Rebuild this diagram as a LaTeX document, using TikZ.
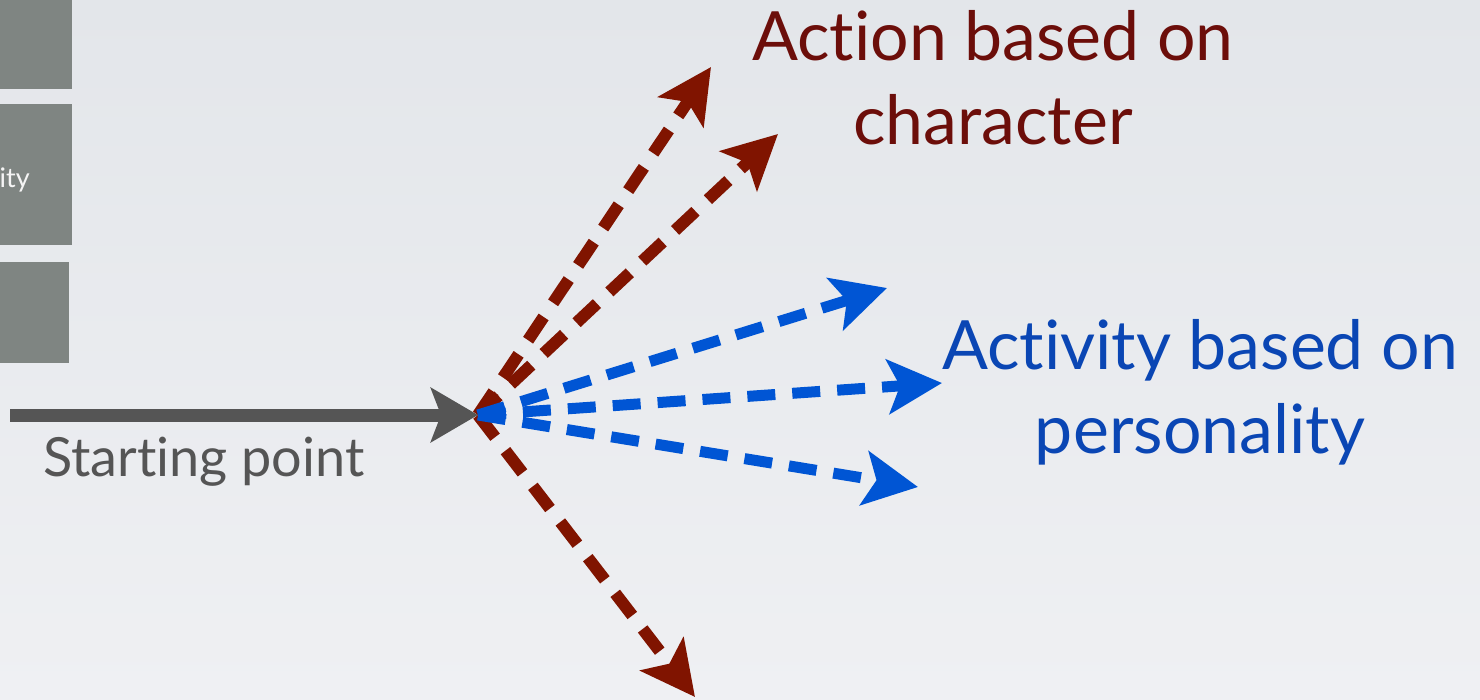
\documentclass[tikz,border=0pt]{standalone}
\usepackage{fontspec}
\setmainfont{Lato}[Ligatures={NoCommon,NoRare,NoContextual}]
\usetikzlibrary{arrows.meta}
\definecolor{bgtop}{RGB}{227,230,234}
\definecolor{bgbot}{RGB}{239,240,243}
\definecolor{boxgray}{RGB}{127,133,130}
\definecolor{startgray}{RGB}{85,85,85}
\definecolor{charred}{RGB}{128,20,0}
\definecolor{chartext}{RGB}{108,14,10}
\definecolor{persblue}{RGB}{0,85,212}
\definecolor{perstext}{RGB}{10,70,180}
\tikzset{
  dasharrow/.style={line width=12pt, dash pattern=on 28pt off 17pt,
    -{Stealth[length=54pt,width=54pt,inset=12pt]}},
  bigtext/.style={align=center, inner sep=0pt, font=\fontsize{68}{84}\selectfont}
}

\begin{document}
\begin{tikzpicture}[x=1pt,y=-1pt]
    \useasboundingbox (0,0) rectangle (1480,700);
    \shade [top color=bgtop, bottom color=bgbot] (0,0) rectangle (1480,700);
    % boxes cut at the left edge
    \fill [boxgray] (0,0) rectangle (72,89);
    \fill [boxgray] (0,104) rectangle (72,245);
    \fill [boxgray] (0,262) rectangle (69,363);
    \node (ity) [anchor=base east, inner sep=0pt, text=white!92!boxgray,
      font=\fontsize{27}{30}\selectfont] at (30,188) {ity};
    % starting point
    \coordinate (start) at (10,415);
    \coordinate (hub) at (478,415);
    \draw [startgray, line width=13pt, -{Stealth[length=47pt,width=54pt,inset=10pt]}]
      (start) -- (hub);
    \node (startlbl) [anchor=base west, inner sep=0pt, text=startgray,
      font=\fontsize{54}{60}\selectfont] at (43,476) {Starting point};
    % action arrows
    \coordinate (ra) at (711,67);
    \coordinate (rb) at (778,134);
    \coordinate (rc) at (695,697);
    \foreach \tip in {ra,rb,rc}
    \draw [dasharrow, charred] (hub) -- (\tip);
    % activity arrows
    \coordinate (ba) at (887,288);
    \coordinate (bb) at (942,383);
    \coordinate (bc) at (918,487);
    \foreach \tip in {ba,bb,bc}
    \draw [dasharrow, persblue, line width=11pt] (hub) -- (\tip);
    \node (action) [bigtext, text=chartext] at (993,78) {Action based on\\character};
    \node (activity) [bigtext, text=perstext] at (1200,392) {Activity based on\\personality};
  \end{tikzpicture}
\end{document}
